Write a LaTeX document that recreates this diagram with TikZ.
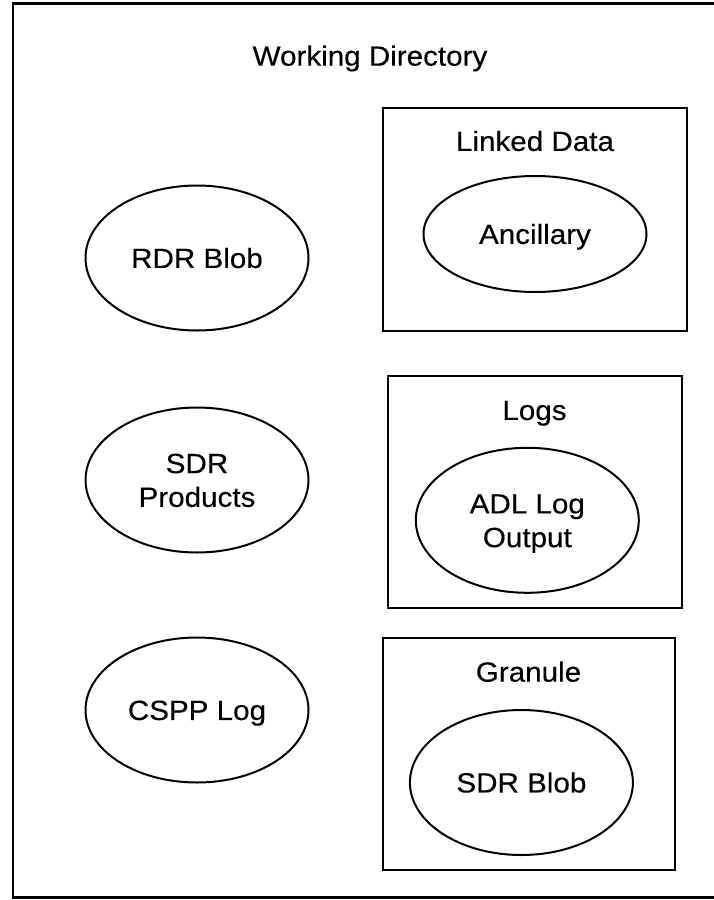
\documentclass[tikz,border=0pt]{standalone}
\usepackage{fontspec}
\setmainfont{Liberation Sans}[FakeStretch=1.065, FakeBold=0.3]
\usetikzlibrary{shapes.geometric}
\tikzset{
  lbl/.style={font=\fontsize{27.8}{33.7}\selectfont, inner sep=0pt,
    text height=19.9pt, text depth=0pt},
  item/.style={lbl, draw, line width=2pt, ellipse,
    minimum width=223pt, minimum height=145pt},
  % a centred two-line box has its baseline on the last line
  twoline/.style={align=center, text height=53.6pt, text depth=0pt},
  group/.style={draw, line width=2pt},
}
\begin{document}
\begin{tikzpicture}[x=1pt, y=-1pt]
  \useasboundingbox (0,0) rectangle (714,900);
  \fill[white] (0,0) rectangle (714,900);

  % working directory frame
  \draw[group, line width=2.4pt] (13,3.5) rectangle (718,897.5);
  \node[lbl] (wd) at (370,55.7) {Working Directory};

  % items directly in the working directory
  \node[item] (rdr) at (197,258) {RDR Blob};
  \node[item, twoline] (sdrp) at (197,480) {SDR\\Products};
  \node[item] (cspp) at (197,710) {CSPP Log};

  % linked data folder
  \draw[group] (383,108) rectangle (687,331);
  \node[lbl] (linked) at (535,141) {Linked Data};
  \node[item, minimum height=116pt] (anc) at (535,234) {Ancillary};

  % logs folder
  \draw[group] (388,376) rectangle (681.5,607.5);
  \node[lbl] (logs) at (534.5,410) {Logs};
  \node[item, twoline] (adl) at (527.3,520.3) {ADL Log\\Output};

  % granule folder
  \draw[group] (382.5,638) rectangle (675,870);
  \node[lbl] (gran) at (528.5,671.7) {Granule};
  \node[item] (sdrb) at (521.4,782.5) {SDR Blob};
\end{tikzpicture}
\end{document}
